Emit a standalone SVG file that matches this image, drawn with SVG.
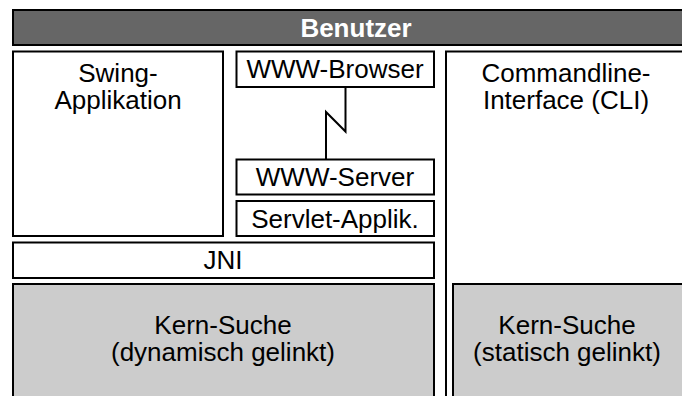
<svg xmlns="http://www.w3.org/2000/svg" width="682" height="396" viewBox="0 0 682 396">
  <style>
    .box { fill: #ffffff; stroke: #000000; stroke-width: 2; }
    .core { fill: #cccccc; stroke: #000000; stroke-width: 2; }
    .bar { fill: #666666; stroke: #000000; stroke-width: 2; }
    .lbl { font-family: "Liberation Sans", Arial, sans-serif; font-size: 26px; fill: #000000; text-anchor: middle; }
    .head { font-family: "Liberation Sans", Arial, sans-serif; font-size: 26px; font-weight: bold; fill: #ffffff; text-anchor: middle; }
    .link { fill: none; stroke: #000000; stroke-width: 2; stroke-linejoin: miter; }
  </style>
  <rect width="682" height="396" fill="#ffffff"/>

  <g id="benutzer">
    <rect class="bar" x="13" y="10" width="700" height="35"/>
    <text class="head" x="356" y="37">Benutzer</text>
  </g>

  <g id="swing">
    <rect class="box" x="13" y="51.5" width="210" height="184.5"/>
    <text class="lbl" x="118" y="82">Swing-</text>
    <text class="lbl" x="118" y="109">Applikation</text>
  </g>

  <g id="www-browser">
    <rect class="box" x="236.5" y="51.5" width="197.5" height="35.5"/>
    <text class="lbl" x="335" y="78">WWW-Browser</text>
  </g>

  <g id="www-server">
    <rect class="box" x="236.5" y="159.5" width="197.5" height="35"/>
    <text class="lbl" x="335" y="186">WWW-Server</text>
  </g>

  <g id="servlet">
    <rect class="box" x="236.5" y="201" width="197.5" height="35"/>
    <text class="lbl" x="335" y="227.5">Servlet-Applik.</text>
  </g>

  <g id="jni">
    <rect class="box" x="13" y="242.5" width="421" height="35.5"/>
    <text class="lbl" x="223" y="269">JNI</text>
  </g>

  <g id="cli">
    <rect class="box" x="446" y="51.5" width="280" height="370"/>
    <text class="lbl" x="566" y="82">Commandline-</text>
    <text class="lbl" x="566" y="109">Interface (CLI)</text>
  </g>

  <g id="kern-dynamisch">
    <rect class="core" x="13" y="284" width="421" height="140"/>
    <text class="lbl" x="223" y="334">Kern-Suche</text>
    <text class="lbl" x="223" y="361">(dynamisch gelinkt)</text>
  </g>

  <g id="kern-statisch">
    <rect class="core" x="453" y="284" width="270" height="140"/>
    <text class="lbl" x="567" y="334">Kern-Suche</text>
    <text class="lbl" x="567" y="361">(statisch gelinkt)</text>
  </g>

  <g id="connectors">
    <polyline class="link" points="345.5,87 345.5,131.5 326,112 326,159.5"/>
  </g>
</svg>
